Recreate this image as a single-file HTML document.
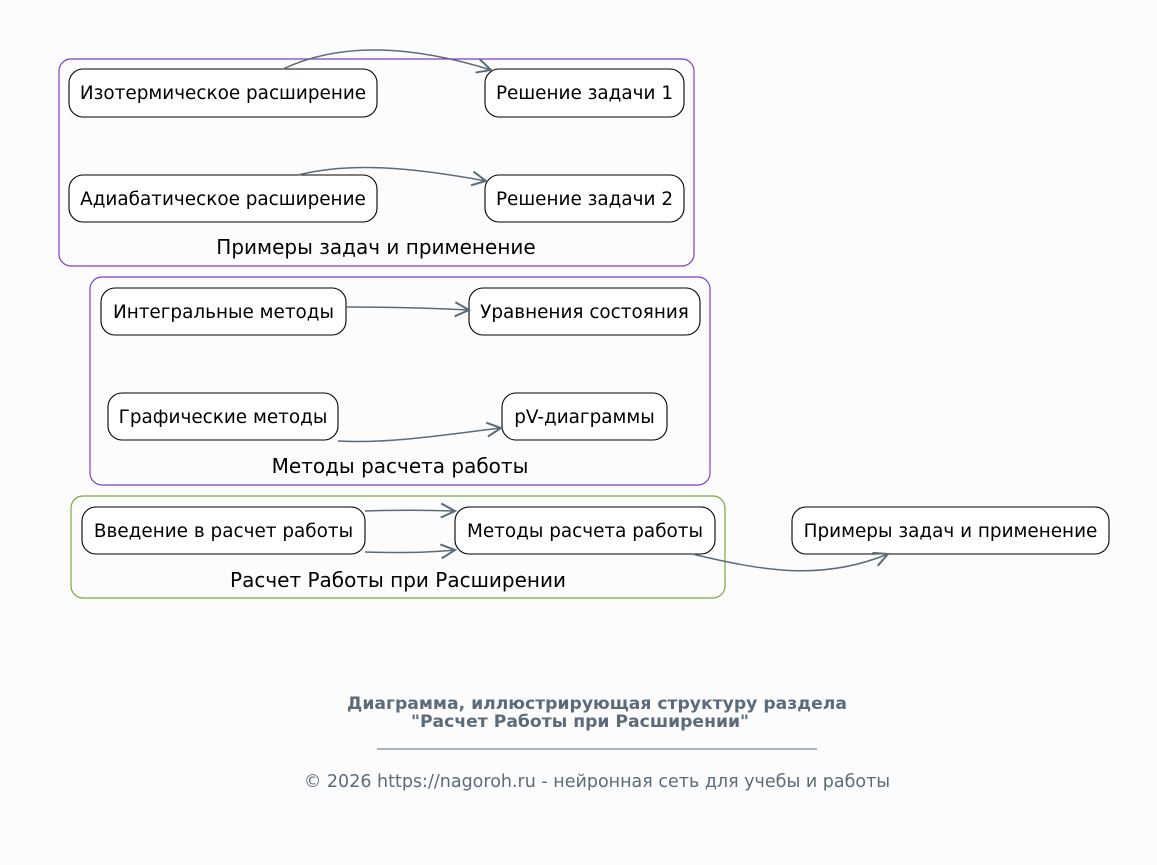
<!DOCTYPE html>
<html><head><meta charset="utf-8"><style>
html,body{margin:0;padding:0;background:#fcfcfc;}
svg{display:block;}
text{font-family:"DejaVu Sans","Liberation Sans",sans-serif;}
</style></head><body>
<svg width="1157" height="865" viewBox="0 0 1157 865" xmlns="http://www.w3.org/2000/svg">
<defs>
<marker id="a" markerWidth="20" markerHeight="20" refX="16" refY="8" orient="auto" markerUnits="userSpaceOnUse">
<path d="M2,1 L16,8 L2,15" fill="none" stroke="#5c6b7a" stroke-width="2"/>
</marker>
</defs>
<rect width="1157" height="865" fill="#fcfcfc"/>
<rect x="59" y="59" width="635" height="207" rx="12" fill="none" stroke="#7b3fcf" stroke-width="1.2"/>
<text x="376" y="254" font-size="20" text-anchor="middle" fill="#000">Примеры задач и применение</text>
<rect x="90" y="277" width="620" height="208" rx="12" fill="none" stroke="#7b3fcf" stroke-width="1.2"/>
<text x="400" y="473" font-size="20" text-anchor="middle" fill="#000">Методы расчета работы</text>
<rect x="71" y="496" width="654" height="102" rx="12" fill="none" stroke="#7aa83a" stroke-width="1.2"/>
<text x="398" y="587" font-size="20" text-anchor="middle" fill="#000">Расчет Работы при Расширении</text>
<g fill="#fff" stroke="#000" stroke-width="1.1">
<rect x="69" y="69" width="308" height="48" rx="14"/>
<rect x="485" y="69" width="199" height="48" rx="14"/>
<rect x="69" y="175" width="308" height="47" rx="14"/>
<rect x="485" y="175" width="199" height="47" rx="14"/>
<rect x="101" y="288" width="245" height="47" rx="14"/>
<rect x="469" y="288" width="231" height="47" rx="14"/>
<rect x="108" y="393" width="230" height="47" rx="14"/>
<rect x="502" y="393" width="165" height="47" rx="14"/>
<rect x="82" y="507" width="283" height="47" rx="14"/>
<rect x="455" y="507" width="260" height="47" rx="14"/>
<rect x="792" y="507" width="317" height="47" rx="14"/>
</g>
<g font-size="18.4" text-anchor="middle" fill="#000">
<text x="223" y="99">Изотермическое расширение</text>
<text x="584.5" y="99">Решение задачи 1</text>
<text x="223" y="205">Адиабатическое расширение</text>
<text x="584.5" y="205">Решение задачи 2</text>
<text x="223.5" y="318">Интегральные методы</text>
<text x="584.5" y="318">Уравнения состояния</text>
<text x="223" y="423">Графические методы</text>
<text x="584.5" y="423">pV-диаграммы</text>
<text x="223.5" y="537">Введение в расчет работы</text>
<text x="585" y="537">Методы расчета работы</text>
<text x="950.5" y="537">Примеры задач и применение</text>
</g>
<g fill="none" stroke="#5c6b7a" stroke-width="1.5" marker-end="url(#a)">
<path d="M283,69 C340,42 410,45 491,70"/>
<path d="M298,175 C350,162 410,167 486,181"/>
<path d="M346,307 C390,307 430,308 469,310"/>
<path d="M338,441 C390,444 450,434 501,428"/>
<path d="M365,511 C395,510 425,510 455,511"/>
<path d="M365,552 C395,553 425,553 455,550"/>
<path d="M692,554 C760,570 820,582 888,554"/>
</g>
<text x="597" y="709" font-size="17.2" font-weight="bold" text-anchor="middle" fill="#5c6b7a">Диаграмма, иллюстрирующая структуру раздела</text>
<text x="580" y="727" font-size="17.2" font-weight="bold" text-anchor="middle" fill="#5c6b7a">"Расчет Работы при Расширении"</text>
<line x1="377" y1="749" x2="817" y2="749" stroke="#5c6b7a" stroke-width="1"/>
<text x="597" y="787" font-size="17.5" text-anchor="middle" fill="#5c6b7a">© 2026 https://nagoroh.ru - нейронная сеть для учебы и работы</text>
</svg>
</body></html>
